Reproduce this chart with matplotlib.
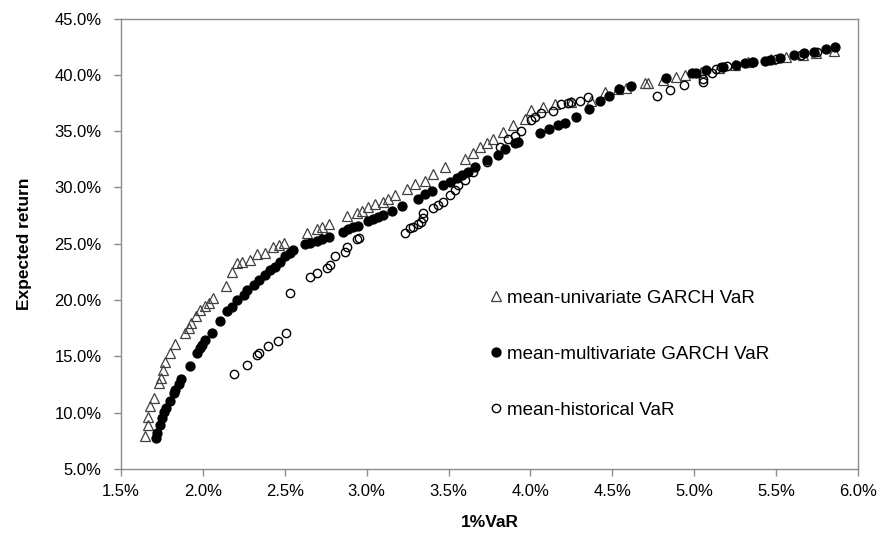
import matplotlib
matplotlib.use("Agg")
import matplotlib.pyplot as plt
from matplotlib.ticker import FuncFormatter

plt.rcParams['font.family'] = ['Liberation Sans', 'DejaVu Sans']

# mean-univariate GARCH VaR (triangles)
uni_var = [1.648, 1.665, 1.665, 1.679, 1.701, 1.730, 1.742, 1.754, 1.766, 1.801,
           1.827, 1.892, 1.913, 1.929, 1.959, 1.984, 2.010, 2.035, 2.059, 2.140,
           2.177, 2.207, 2.238, 2.288, 2.329, 2.380, 2.431, 2.462, 2.498, 2.634,
           2.695, 2.726, 2.767, 2.878, 2.939, 2.970, 3.010, 3.051, 3.102, 3.132,
           3.173, 3.244, 3.295, 3.356, 3.407, 3.478, 3.600, 3.651, 3.691, 3.732,
           3.773, 3.834, 3.894, 3.965, 4.006, 4.077, 4.150, 4.250, 4.372, 4.453,
           4.535, 4.585, 4.697, 4.717, 4.808, 4.890, 4.941, 5.043, 5.150, 5.250,
           5.327, 5.470, 5.561, 5.663, 5.744, 5.855]
uni_ret = [7.96, 8.93, 9.61, 10.56, 11.30, 12.63, 13.07, 13.75, 14.52, 15.29,
           16.12, 17.12, 17.51, 17.95, 18.60, 19.13, 19.49, 19.78, 20.17, 21.26,
           22.53, 23.28, 23.42, 23.57, 24.07, 24.22, 24.75, 24.90, 25.11, 25.99,
           26.29, 26.47, 26.77, 27.48, 27.77, 27.95, 28.25, 28.54, 28.75, 28.96,
           29.34, 29.84, 30.29, 30.61, 31.20, 31.80, 32.50, 33.09, 33.57, 33.93,
           34.28, 34.96, 35.55, 36.06, 36.88, 37.17, 37.40, 37.60, 37.71, 38.51,
           38.72, 38.80, 39.25, 39.25, 39.54, 39.84, 39.99, 40.28, 40.65, 40.90,
           41.17, 41.38, 41.61, 41.76, 41.91, 42.14]

# mean-multivariate GARCH VaR (filled dots)
mul_var = [1.715, 1.720, 1.740, 1.750, 1.764, 1.776, 1.797, 1.821, 1.831, 1.852,
           1.868, 1.923, 1.963, 1.980, 1.994, 2.014, 2.055, 2.102, 2.146, 2.177,
           2.207, 2.248, 2.268, 2.309, 2.340, 2.380, 2.411, 2.441, 2.472, 2.502,
           2.533, 2.553, 2.624, 2.655, 2.695, 2.726, 2.767, 2.858, 2.888, 2.919,
           2.949, 3.010, 3.041, 3.071, 3.102, 3.152, 3.213, 3.315, 3.356, 3.396,
           3.468, 3.508, 3.549, 3.580, 3.620, 3.661, 3.732, 3.803, 3.844, 3.905,
           3.925, 4.057, 4.114, 4.169, 4.209, 4.280, 4.357, 4.427, 4.480, 4.540,
           4.616, 4.825, 4.988, 5.012, 5.073, 5.175, 5.256, 5.307, 5.358, 5.429,
           5.460, 5.521, 5.612, 5.673, 5.734, 5.805, 5.862]
mul_ret = [7.75, 8.19, 8.93, 9.52, 10.02, 10.41, 11.00, 11.74, 12.04, 12.57,
           12.99, 14.17, 15.29, 15.74, 16.03, 16.47, 17.07, 18.10, 18.99, 19.43,
           20.02, 20.47, 20.91, 21.35, 21.80, 22.24, 22.68, 22.98, 23.42, 23.87,
           24.22, 24.46, 24.99, 25.11, 25.26, 25.41, 25.64, 26.08, 26.29, 26.47,
           26.59, 27.06, 27.18, 27.36, 27.56, 27.95, 28.36, 28.96, 29.43, 29.72,
           30.23, 30.52, 30.82, 31.11, 31.41, 31.80, 32.44, 32.89, 33.39, 33.93,
           34.07, 34.87, 35.17, 35.55, 35.76, 36.29, 36.94, 37.71, 38.12, 38.72,
           39.01, 39.69, 40.13, 40.19, 40.43, 40.73, 40.87, 41.08, 41.17, 41.26,
           41.32, 41.47, 41.76, 41.91, 42.05, 42.27, 42.45]

# mean-historical VaR (hollow circles)
his_var = [2.190, 2.270, 2.330, 2.345, 2.400, 2.460, 2.510, 2.530, 2.655, 2.695,
           2.756, 2.776, 2.807, 2.868, 2.878, 2.939, 2.955, 3.234, 3.264, 3.285,
           3.315, 3.329, 3.346, 3.346, 3.407, 3.437, 3.468, 3.508, 3.539, 3.559,
           3.600, 3.651, 3.732, 3.813, 3.864, 3.905, 3.945, 4.006, 4.026, 4.067,
           4.138, 4.189, 4.230, 4.250, 4.301, 4.352, 4.770, 4.851, 4.937, 5.055,
           5.055, 5.110, 5.130, 5.161, 5.201, 5.350, 5.500, 5.650, 5.750]
his_ret = [13.45, 14.20, 15.10, 15.30, 15.95, 16.40, 17.10, 20.60, 22.04, 22.39,
           22.83, 23.13, 23.87, 24.31, 24.75, 25.40, 25.50, 25.94, 26.38, 26.53,
           26.77, 26.97, 27.27, 27.72, 28.16, 28.45, 28.75, 29.34, 29.78, 30.23,
           30.67, 31.41, 32.29, 33.57, 34.28, 34.57, 35.05, 35.99, 36.23, 36.64,
           36.82, 37.39, 37.53, 37.62, 37.71, 38.00, 38.12, 38.66, 39.10, 39.39,
           39.60, 40.19, 40.49, 40.67, 40.79, 41.15, 41.40, 41.75, 42.00]

labels = ["mean-univariate GARCH VaR", "mean-multivariate GARCH VaR", "mean-historical VaR"]

fig = plt.figure(figsize=(8.95, 5.34), dpi=100)
ax = fig.add_axes([0.1352, 0.1217, 0.8235, 0.8436])

ax.plot(uni_var, uni_ret, linestyle='none', marker='^', markersize=7.8,
        markerfacecolor='none', markeredgecolor='#404040', markeredgewidth=0.9,
        label=labels[0])
ax.plot(mul_var, mul_ret, linestyle='none', marker='o', markersize=6.4,
        markerfacecolor='black', markeredgecolor='black', label=labels[1])
ax.plot(his_var, his_ret, linestyle='none', marker='o', markersize=6.0,
        markerfacecolor='none', markeredgecolor='black', markeredgewidth=1.0,
        label=labels[2])

ax.set_xlim(1.5, 6.0)
ax.set_ylim(5.0, 45.0)
ax.set_xticks([1.5 + 0.5 * i for i in range(10)])
ax.set_yticks([5.0 + 5.0 * i for i in range(9)])
pct = FuncFormatter(lambda v, p: f"{v:.1f}%")
ax.xaxis.set_major_formatter(pct)
ax.yaxis.set_major_formatter(pct)

for s in ax.spines.values():
    s.set_color('#8c8c8c')
    s.set_linewidth(1.0)
ax.tick_params(axis='both', direction='out', length=5, width=1.0, color='#8c8c8c',
               labelsize=12, labelcolor='black')
ax.tick_params(axis='y', pad=9)
ax.tick_params(axis='x', pad=6)

ax.set_xlabel("1%VaR", fontsize=12.5, fontweight='bold', labelpad=11)
ax.set_ylabel("Expected return", fontsize=12.5, fontweight='bold', labelpad=16)

ax.legend(loc='upper left', bbox_to_anchor=(0.49, 0.415), frameon=False,
          fontsize=13.5, handlelength=0.7, handletextpad=0.25, labelspacing=2.08,
          borderaxespad=0.0)

fig.savefig("out.png", dpi=100)
